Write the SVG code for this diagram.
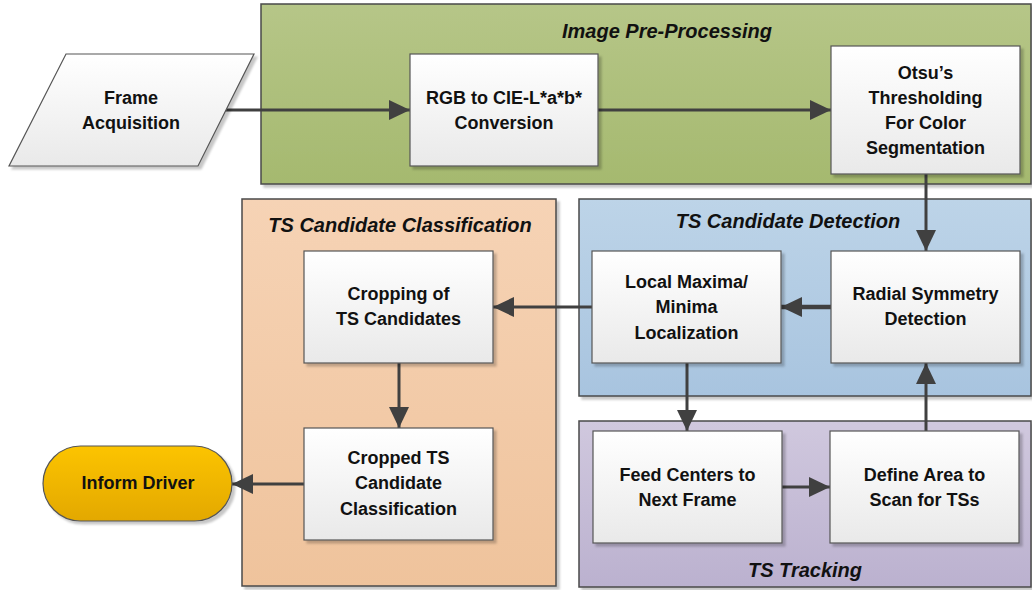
<svg xmlns="http://www.w3.org/2000/svg" width="1032" height="590" viewBox="0 0 1032 590">
<defs>
<linearGradient id="gGreen" x1="0" y1="0" x2="0" y2="1"><stop offset="0" stop-color="#b6c688"/><stop offset="1" stop-color="#a5b96f"/></linearGradient>
<linearGradient id="gBlue" x1="0" y1="0" x2="0" y2="1"><stop offset="0" stop-color="#bdd4e8"/><stop offset="1" stop-color="#a8c4df"/></linearGradient>
<linearGradient id="gOrange" x1="0" y1="0" x2="0" y2="1"><stop offset="0" stop-color="#f6d3b5"/><stop offset="1" stop-color="#efc39c"/></linearGradient>
<linearGradient id="gPurple" x1="0" y1="0" x2="0" y2="1"><stop offset="0" stop-color="#d0c8de"/><stop offset="1" stop-color="#bbb1cf"/></linearGradient>
<linearGradient id="gBox" x1="0" y1="0" x2="0" y2="1"><stop offset="0" stop-color="#ffffff"/><stop offset="1" stop-color="#e9e9e9"/></linearGradient>
<linearGradient id="gGold" x1="0" y1="0" x2="0" y2="1"><stop offset="0" stop-color="#fcc400"/><stop offset="1" stop-color="#e3a800"/></linearGradient>
<filter id="sh" x="-10%" y="-10%" width="130%" height="130%"><feDropShadow dx="3" dy="3" stdDeviation="1.2" flood-color="#000" flood-opacity="0.22"/></filter>
<marker id="ah" markerUnits="userSpaceOnUse" markerWidth="21" markerHeight="20" refX="21" refY="10" orient="auto"><path d="M0,0 L21,10 L0,20 z" fill="#404040"/></marker>
</defs>
<style>
.cont{stroke:#4a4a4a;stroke-width:1.5;filter:url(#sh)}
.box{fill:url(#gBox);stroke:#555;stroke-width:1.2;filter:url(#sh)}
.t{font-family:"Liberation Sans",Arial,sans-serif;font-weight:bold;font-size:18px;fill:#111;text-anchor:middle}
.ti{font-family:"Liberation Sans",Arial,sans-serif;font-weight:bold;font-style:italic;font-size:20px;fill:#111;text-anchor:middle}
.c{stroke:#404040;stroke-width:3;fill:none;marker-end:url(#ah)}
</style>
<g id="preprocessing"><rect class="cont" x="261" y="4" width="770" height="180" fill="url(#gGreen)"/><text class="ti" x="667" y="38">Image Pre-Processing</text></g>
<g id="classification"><rect class="cont" x="242" y="199" width="314" height="387" fill="url(#gOrange)"/><text class="ti" x="400" y="232">TS Candidate Classification</text></g>
<g id="detection"><rect class="cont" x="579" y="199" width="452" height="197" fill="url(#gBlue)"/><text class="ti" x="788" y="228">TS Candidate Detection</text></g>
<g id="tracking"><rect class="cont" x="579" y="421" width="452" height="166" fill="url(#gPurple)"/><text class="ti" x="805" y="577">TS Tracking</text></g>
<g id="connectors">
<line class="c" x1="225" y1="110" x2="410" y2="110"/>
<line class="c" x1="598" y1="110" x2="831" y2="110"/>
<line class="c" x1="926" y1="174" x2="926" y2="251"/>
<line class="c" x1="831" y1="307" x2="781" y2="307" style="stroke-width:4.5"/>
<line class="c" x1="592" y1="307" x2="493" y2="307"/>
<line class="c" x1="399" y1="363" x2="399" y2="428"/>
<line class="c" x1="304" y1="484" x2="232" y2="484"/>
<line class="c" x1="687" y1="363" x2="687" y2="431"/>
<line class="c" x1="782" y1="487" x2="830" y2="487"/>
<line class="c" x1="926" y1="431" x2="926" y2="363"/>
</g>
<g id="frame"><polygon class="box" points="66,54 254,54 198,166 9,166"/><text class="t" x="131" y="104">Frame</text><text class="t" x="131" y="129">Acquisition</text></g>
<g id="rgb"><rect class="box" x="410" y="54" width="188" height="112"/><text class="t" x="504" y="104">RGB to CIE-L*a*b*</text><text class="t" x="504" y="129">Conversion</text></g>
<g id="otsu"><rect class="box" x="831" y="46" width="189" height="128"/><text class="t" x="925.5" y="79">Otsu’s</text><text class="t" x="925.5" y="104">Thresholding</text><text class="t" x="925.5" y="129">For Color</text><text class="t" x="925.5" y="154">Segmentation</text></g>
<g id="radial"><rect class="box" x="831" y="251" width="189" height="112"/><text class="t" x="925.5" y="300">Radial Symmetry</text><text class="t" x="925.5" y="325">Detection</text></g>
<g id="local"><rect class="box" x="592" y="251" width="189" height="112"/><text class="t" x="686.5" y="288">Local Maxima/</text><text class="t" x="686.5" y="313">Minima</text><text class="t" x="686.5" y="339">Localization</text></g>
<g id="feed"><rect class="box" x="593" y="431" width="189" height="112"/><text class="t" x="687.5" y="481">Feed Centers to</text><text class="t" x="687.5" y="506">Next Frame</text></g>
<g id="define"><rect class="box" x="830" y="431" width="189" height="112"/><text class="t" x="924.5" y="481">Define Area to</text><text class="t" x="924.5" y="506">Scan for TSs</text></g>
<g id="cropping"><rect class="box" x="304" y="251" width="189" height="112"/><text class="t" x="398.5" y="300">Cropping of</text><text class="t" x="398.5" y="325">TS Candidates</text></g>
<g id="classify"><rect class="box" x="304" y="428" width="189" height="112"/><text class="t" x="398.5" y="464">Cropped TS</text><text class="t" x="398.5" y="489">Candidate</text><text class="t" x="398.5" y="515">Classification</text></g>
<g id="inform"><rect x="43" y="446" width="189" height="75" rx="37.5" ry="37.5" fill="url(#gGold)" stroke="#555" stroke-width="1.2" filter="url(#sh)"/><text class="t" x="138" y="489">Inform Driver</text></g>
</svg>
